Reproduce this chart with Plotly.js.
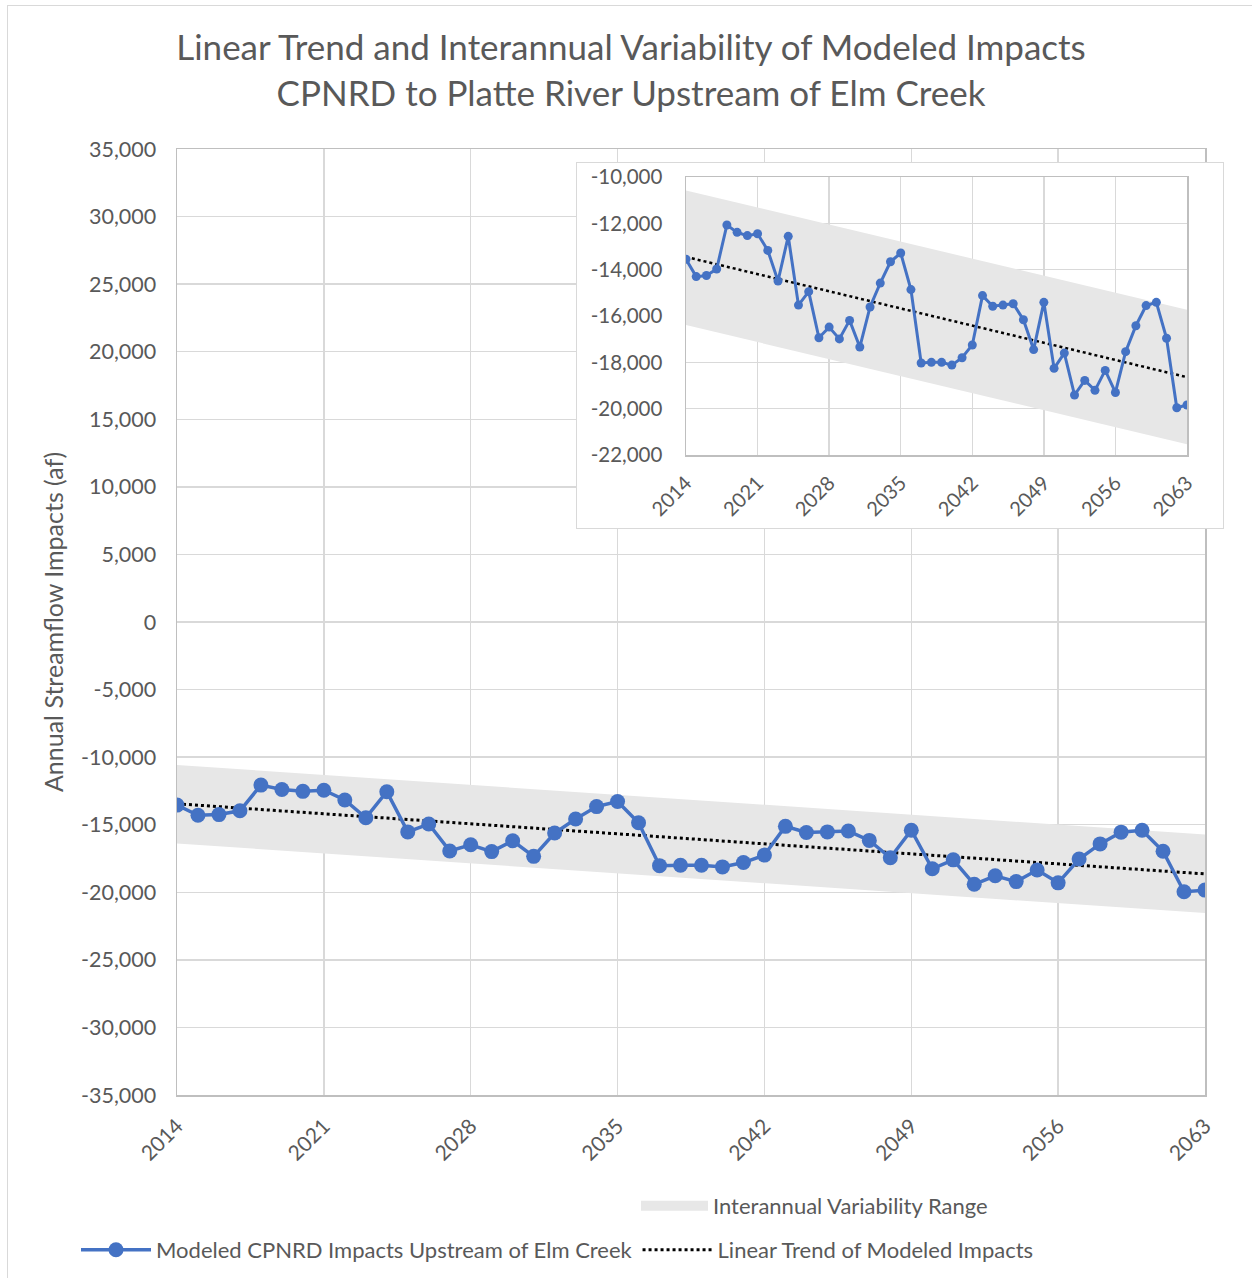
<!DOCTYPE html>
<html>
<head>
<meta charset="utf-8">
<script src="https://cdn.plot.ly/plotly-3.0.1.min.js"></script>
<style>
  html, body { margin: 0; padding: 0; background: #ffffff; }
  #wrap { position: relative; width: 1252px; height: 1278px; overflow: hidden; }
  #frame { position: absolute; left: 7px; top: 5px; width: 1300px; height: 1300px; border: 1px solid #d9d9d9; box-sizing: border-box; }
  #main { position: absolute; left: 0; top: 0; width: 1252px; height: 1278px; }
  #inset { position: absolute; left: 576px; top: 162px; width: 648px; height: 367px; border: 1px solid #d9d9d9; box-sizing: border-box; background: #ffffff; }
</style>
</head>
<body>
<div id="wrap">
  <div id="frame"></div>
  <div id="main"></div>
  <div id="inset"></div>
</div>
<script>
// ---------------- data ----------------
const years = [2014,2015,2016,2017,2018,2019,2020,2021,2022,2023,
               2024,2025,2026,2027,2028,2029,2030,2031,2032,2033,
               2034,2035,2036,2037,2038,2039,2040,2041,2042,2043,
               2044,2045,2046,2047,2048,2049,2050,2051,2052,2053,
               2054,2055,2056,2057,2058,2059,2060,2061,2062,2063];
const impacts = [-13550,-14300,-14250,-13970,-12070,-12390,-12530,-12450,-13170,-14490,
                 -12560,-15530,-14950,-16940,-16480,-16990,-16190,-17340,-15610,-14580,
                 -13660,-13280,-14860,-18030,-18000,-18000,-18120,-17800,-17250,-15120,
                 -15580,-15530,-15470,-16160,-17450,-15410,-18260,-17600,-19410,-18780,
                 -19210,-18350,-19300,-17540,-16420,-15550,-15410,-16960,-19960,-19840];
const trendYears = [2014, 2063];
const trendValues = [-13450, -18640];
const bandUpper = [-10580, -15730];
const bandLower = [-16390, -21540];

const xTickVals = [2014,2021,2028,2035,2042,2049,2056,2063];
const xTickText = ["2014","2021","2028","2035","2042","2049","2056","2063"];
const mainYTickVals = [35000,30000,25000,20000,15000,10000,5000,0,-5000,-10000,-15000,-20000,-25000,-30000,-35000];
const mainYTickText = ["35,000","30,000","25,000","20,000","15,000","10,000","5,000","0","-5,000","-10,000","-15,000","-20,000","-25,000","-30,000","-35,000"];
const insetYTickVals = [-10000,-12000,-14000,-16000,-18000,-20000,-22000];
const insetYTickText = ["-10,000","-12,000","-14,000","-16,000","-18,000","-20,000","-22,000"];

const titleText = "Linear Trend and Interannual Variability of Modeled Impacts<br>CPNRD to Platte River Upstream of Elm Creek";
const yTitle = "Annual Streamflow Impacts (af)";
const nameSeries = "Modeled CPNRD Impacts Upstream of Elm Creek";
const nameTrend = "Linear Trend of Modeled Impacts";
const nameBand = "Interannual Variability Range";

// ---------------- styles ----------------
const FONT = "Lato, 'Open Sans', sans-serif";
const TXT = "#595959";
const BLUE = "#4472C4";
const BAND = "#e7e7e7";
const GRID = "#d9d9d9";
const AXLINE = "#bfbfbf";

function traces(big) {
  const t = [
    { x: trendYears, y: bandLower, type: "scatter", mode: "lines",
      line: { width: 0 }, showlegend: false, hoverinfo: "skip" },
    { x: trendYears, y: bandUpper, type: "scatter", mode: "lines",
      fill: "tonexty", fillcolor: BAND, line: { width: 0, color: BAND },
      name: nameBand, showlegend: false },
    { x: trendYears, y: trendValues, type: "scatter", mode: "lines",
      line: { color: "#000000", width: big ? 3 : 2.5, dash: "dot" },
      name: nameTrend, showlegend: big, legend: "legend2", legendrank: 2 },
    { x: years, y: impacts, type: "scatter", mode: "lines+markers",
      line: { color: BLUE, width: big ? 3.5 : 3 },
      marker: { color: BLUE, size: big ? 15 : 9 },
      name: nameSeries, showlegend: big, legend: "legend2", legendrank: 1 }
  ];
  if (big) {
    // legend-only entry for the variability band (swatch)
    t.push({ x: [null], y: [null], type: "scatter", mode: "lines",
             line: { color: BAND, width: 15 }, name: nameBand,
             showlegend: true, legend: "legend", hoverinfo: "skip" });
  }
  return t;
}

const mainLayout = {
  width: 1252, height: 1278,
  paper_bgcolor: "rgba(0,0,0,0)", plot_bgcolor: "#ffffff",
  margin: { l: 177, r: 47, t: 149, b: 183, autoexpand: false },
  font: { family: FONT, color: TXT, size: 21 },
  title: { text: titleText, font: { family: FONT, size: 35, color: TXT },
           x: 631/1252, xref: "container", xanchor: "center",
           y: 1 - 60/1278, yref: "container", yanchor: "middle" },
  xaxis: { range: [2014, 2063], tickvals: xTickVals, ticktext: xTickText,
           tickangle: -45, showgrid: true, gridcolor: GRID, gridwidth: 1.5,
           showline: true, linecolor: AXLINE, linewidth: 1.5, mirror: true,
           zeroline: false, ticks: "", ticklabelstandoff: 9,
           tickfont: { size: 21, color: TXT, family: FONT } },
  yaxis: { range: [-35000, 35000], tickvals: mainYTickVals, ticktext: mainYTickText,
           showgrid: true, gridcolor: GRID, gridwidth: 1.5,
           showline: true, linecolor: AXLINE, linewidth: 1.5, mirror: true,
           zeroline: false, ticks: "", ticklabelstandoff: 15,
           tickfont: { size: 21.5, color: TXT, family: FONT } ,
           title: { text: yTitle, font: { size: 25, color: TXT, family: FONT }, standoff: 10 } },
  legend: { orientation: "h", x: (636-177)/1028, xanchor: "left",
            y: (1095-1185)/946, yanchor: "top", itemwidth: 67,
            bgcolor: "rgba(0,0,0,0)", font: { size: 22, color: TXT, family: FONT } },
  legend2: { orientation: "h", x: (76-177)/1028, xanchor: "left",
             y: (1095-1229)/946, yanchor: "top", itemwidth: 70,
             traceorder: "normal",
             bgcolor: "rgba(0,0,0,0)", font: { size: 22, color: TXT, family: FONT } },
  showlegend: true
};

const insetLayout = {
  width: 646, height: 365,
  paper_bgcolor: "#ffffff", plot_bgcolor: "#ffffff",
  margin: { l: 109, r: 36, t: 14, b: 73, autoexpand: false },
  font: { family: FONT, color: TXT, size: 20 },
  showlegend: false,
  xaxis: { range: [2014, 2063], tickvals: xTickVals, ticktext: xTickText,
           tickangle: -45, showgrid: true, gridcolor: GRID, gridwidth: 1.5,
           showline: true, linecolor: AXLINE, linewidth: 1.5, mirror: true,
           zeroline: false, ticks: "", ticklabelstandoff: 7,
           tickfont: { size: 20, color: TXT, family: FONT } },
  yaxis: { range: [-22000, -10000], tickvals: insetYTickVals, ticktext: insetYTickText,
           showgrid: true, gridcolor: GRID, gridwidth: 1.5,
           showline: true, linecolor: AXLINE, linewidth: 1.5, mirror: true,
           zeroline: false, ticks: "", ticklabelstandoff: 18,
           tickfont: { size: 20.5, color: TXT, family: FONT } }
};

Plotly.newPlot("main", traces(true), mainLayout, { displayModeBar: false, staticPlot: true });
Plotly.newPlot("inset", traces(false), insetLayout, { displayModeBar: false, staticPlot: true });
</script>
</body>
</html>
